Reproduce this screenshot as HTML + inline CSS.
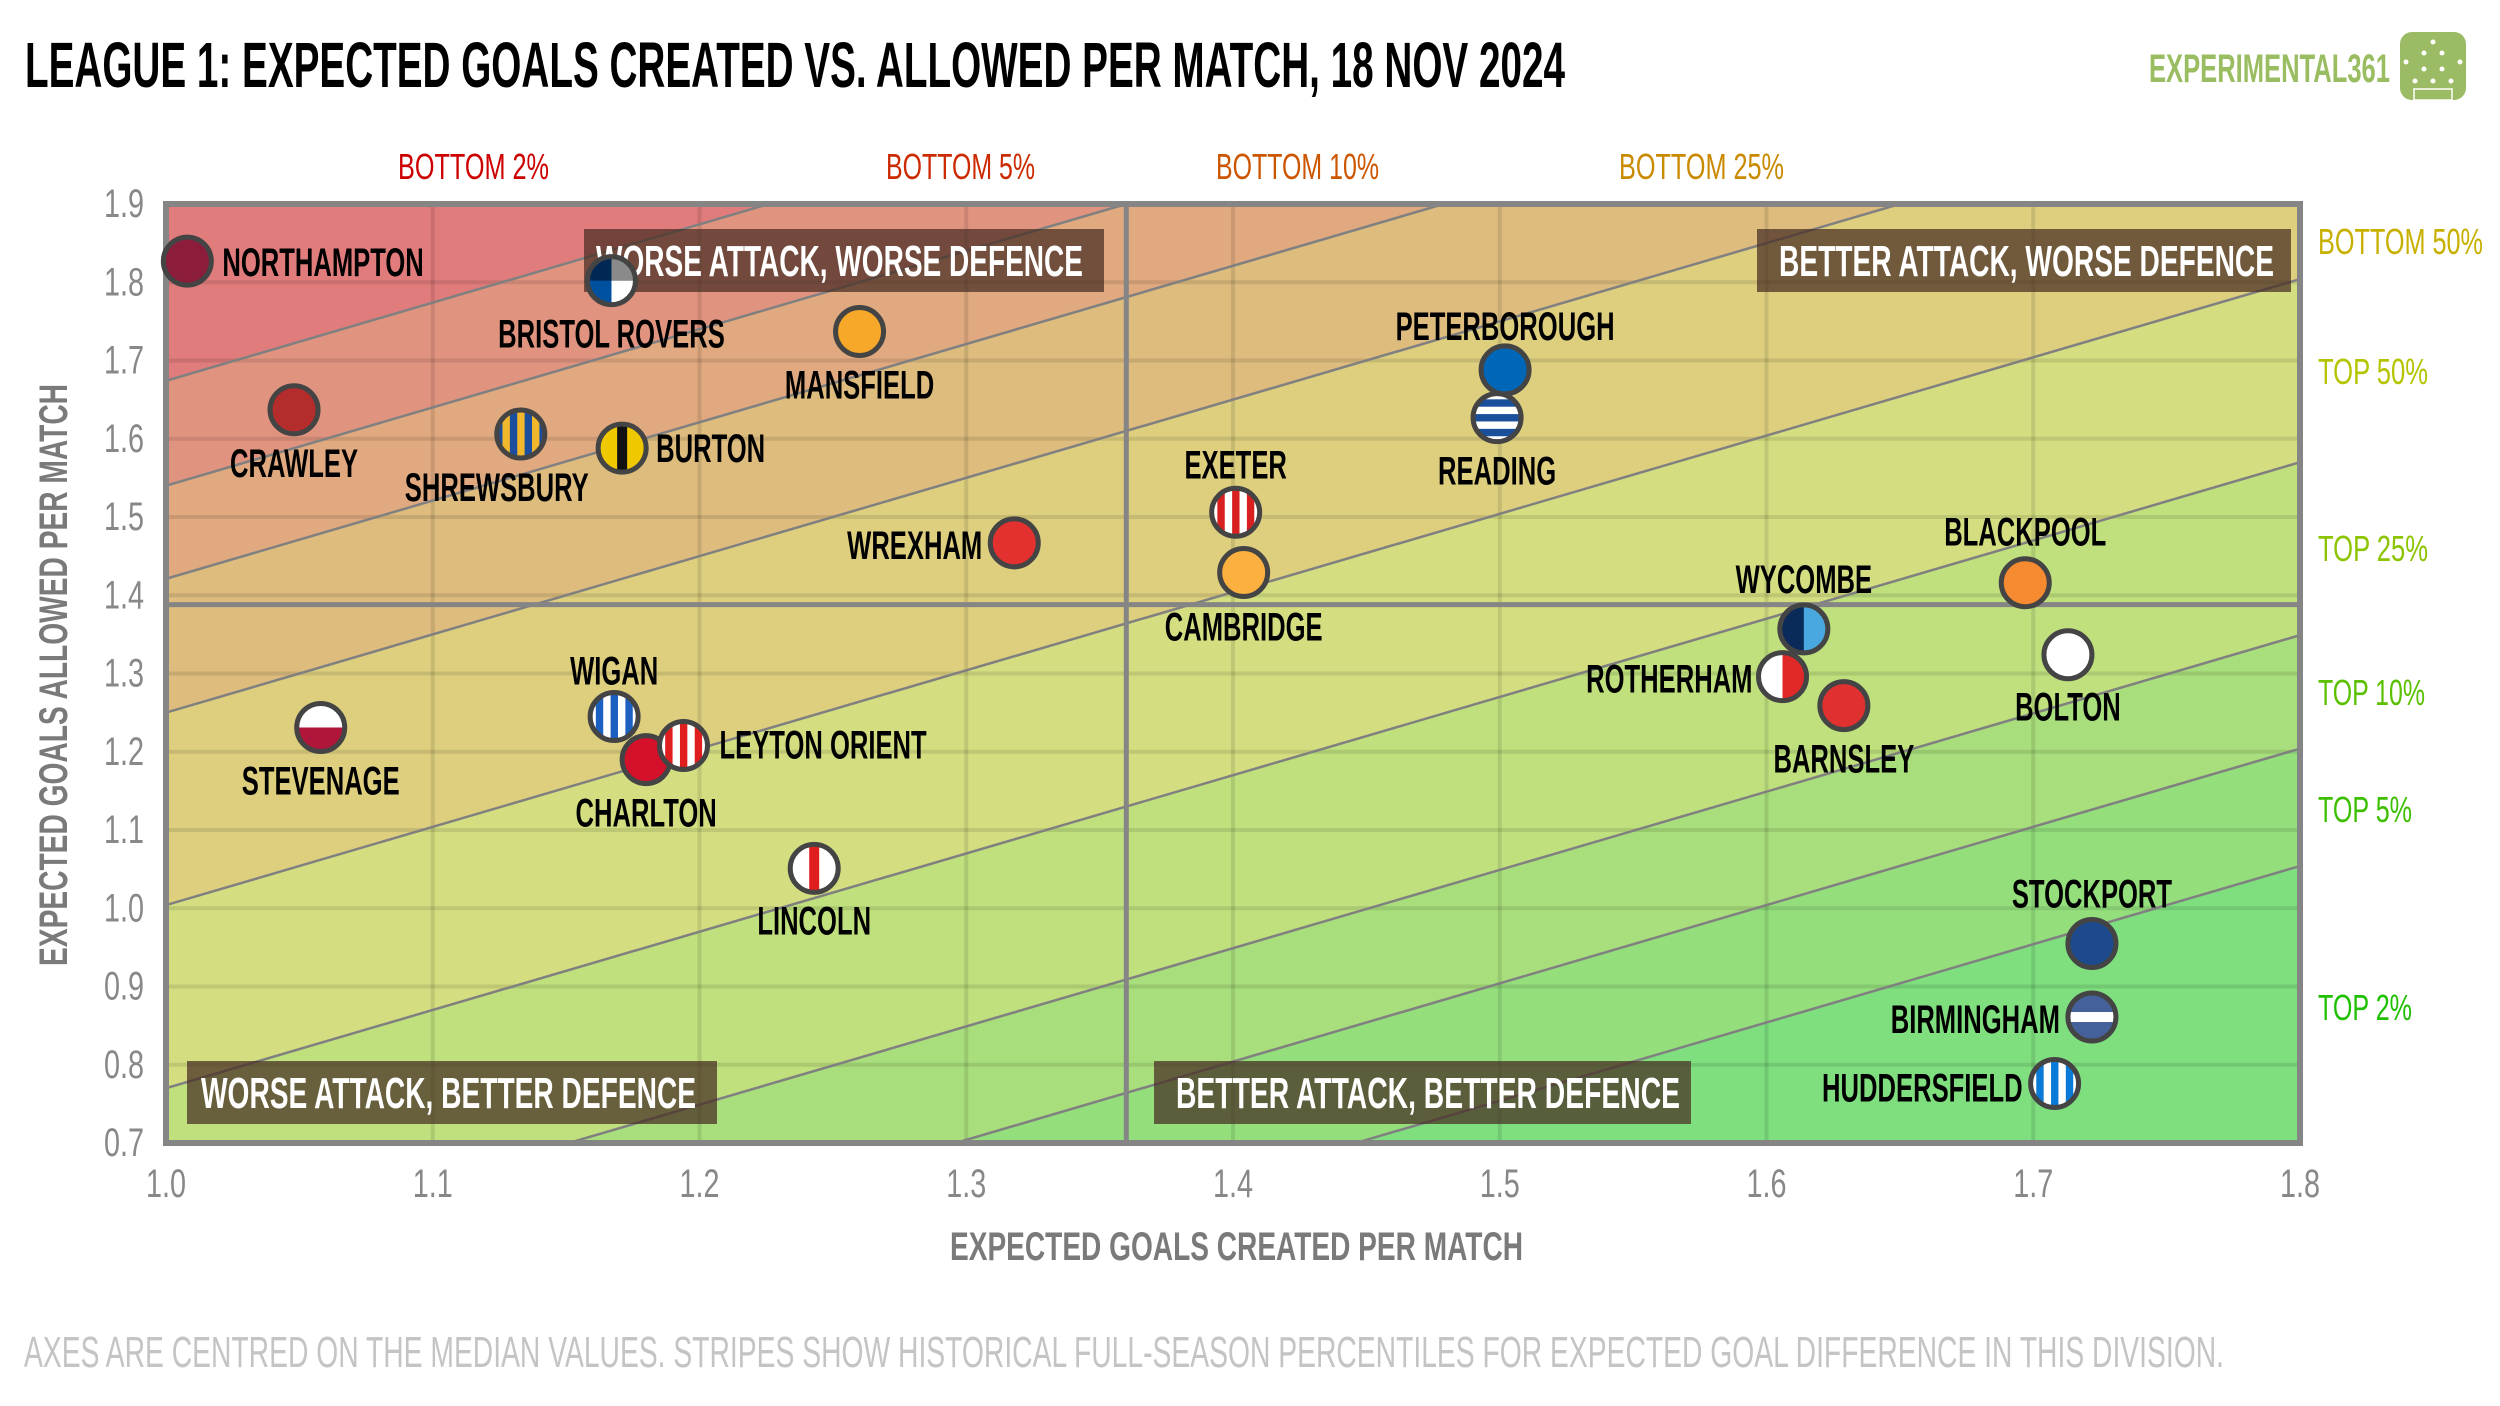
<!DOCTYPE html>
<html><head><meta charset="utf-8">
<style>
html,body{margin:0;padding:0;background:#fff;width:2500px;height:1406px;overflow:hidden;}
svg{display:block;}
text{font-family:"Liberation Sans Narrow","Liberation Sans",sans-serif;}
</style></head>
<body>
<svg id="chart" width="2500" height="1406" viewBox="0 0 2500 1406" xmlns="http://www.w3.org/2000/svg">
<defs><clipPath id="plotclip"><rect x="166" y="204" width="2134" height="939"/></clipPath></defs>
<text x="25" y="87" font-size="64" font-weight="bold" fill="#000" textLength="1540" lengthAdjust="spacingAndGlyphs">LEAGUE 1: EXPECTED GOALS CREATED VS. ALLOWED PER MATCH, 18 NOV 2024</text>
<text x="2149" y="82" font-size="40" font-weight="bold" fill="#9bbd62" textLength="241" lengthAdjust="spacingAndGlyphs">EXPERIMENTAL361</text>
<g>
<rect x="2400" y="32" width="66" height="68" rx="12" fill="#9bbb64"/>
<circle cx="2433" cy="42" r="2.5" fill="#fff"/><circle cx="2424" cy="53" r="2.5" fill="#fff"/><circle cx="2442" cy="53" r="2.5" fill="#fff"/>
<circle cx="2406" cy="62" r="2.5" fill="#fff"/><circle cx="2460" cy="62" r="2.5" fill="#fff"/>
<circle cx="2424" cy="69" r="2.5" fill="#fff"/><circle cx="2442" cy="69" r="2.5" fill="#fff"/>
<circle cx="2415" cy="81" r="2.5" fill="#fff"/><circle cx="2433" cy="81" r="2.5" fill="#fff"/><circle cx="2451" cy="81" r="2.5" fill="#fff"/>
<rect x="2414" y="89" width="38" height="11" fill="none" stroke="#fff" stroke-width="1.5"/>
</g>
<g id="plot"></g>
<text x="950" y="1260" font-size="40" font-weight="bold" fill="#7a7a7a" textLength="573" lengthAdjust="spacingAndGlyphs">EXPECTED GOALS CREATED PER MATCH</text>
<text transform="translate(67,966) rotate(-90)" x="0" y="0" font-size="40" font-weight="bold" fill="#7a7a7a" textLength="582" lengthAdjust="spacingAndGlyphs">EXPECTED GOALS ALLOWED PER MATCH</text>
<text x="24" y="1367" font-size="44" fill="#c4c4c4" textLength="2200" lengthAdjust="spacingAndGlyphs">AXES ARE CENTRED ON THE MEDIAN VALUES. STRIPES SHOW HISTORICAL FULL-SEASON PERCENTILES FOR EXPECTED GOAL DIFFERENCE IN THIS DIVISION.</text>
</svg>
<script>
const teams=["NORTHAMPTON","BRISTOL ROVERS","MANSFIELD","CRAWLEY","SHREWSBURY","BURTON","WREXHAM","EXETER","CAMBRIDGE","PETERBOROUGH","READING","BLACKPOOL","WYCOMBE","ROTHERHAM","BARNSLEY","BOLTON","STEVENAGE","WIGAN","CHARLTON","LEYTON ORIENT","LINCOLN","STOCKPORT","BIRMINGHAM","HUDDERSFIELD"];
const xgFor=[1.008,1.167,1.260,1.048,1.133,1.171,1.318,1.401,1.404,1.502,1.499,1.697,1.614,1.606,1.629,1.713,1.058,1.168,1.180,1.194,1.243,1.722,1.722,1.708];
const xgAgainst=[1.827,1.802,1.737,1.637,1.606,1.588,1.467,1.506,1.429,1.688,1.627,1.416,1.357,1.296,1.259,1.324,1.231,1.245,1.190,1.208,1.051,0.955,0.861,0.776];
const xTicks=[1.0,1.1,1.2,1.3,1.4,1.5,1.6,1.7,1.8];
const yTicks=[0.7,0.8,0.9,1.0,1.1,1.2,1.3,1.4,1.5,1.6,1.7,1.8,1.9];
const medianX=1.36, medianY=1.388;
const pctLines=[-0.674,-0.540,-0.421,-0.25,-0.004,0.230,0.451,0.596,0.746];
const bandColors=["#e07c7c","#e0947f","#e0a97f","#ddbc7e","#ddcf7e","#d4de80","#bfe07d","#a9de7c","#94df7c","#7fdf7f"];
const topLabels=["BOTTOM 2%","BOTTOM 5%","BOTTOM 10%","BOTTOM 25%"];
const rightLabels=["BOTTOM 50%","TOP 50%","TOP 25%","TOP 10%","TOP 5%","TOP 2%"];

const NS="http://www.w3.org/2000/svg";
const X0=166,X1=2300,Y0=204,Y1=1143;
const xs=v=>X0+(v-1.0)/0.8*(X1-X0);
const ys=v=>Y1-(v-0.7)/1.2*(Y1-Y0);
const plot=document.getElementById('plot');
function mk(tag,attrs,parent){const e=document.createElementNS(NS,tag);for(const k in attrs)e.setAttribute(k,attrs[k]);(parent||plot).appendChild(e);return e;}

const bands=mk('g',{'clip-path':'url(#plotclip)'});


mk('rect',{x:X0,y:Y0,width:X1-X0,height:Y1-Y0,fill:bandColors[0]},bands);
pctLines.forEach((g,i)=>{
  const p=mk('polygon',{points:`${xs(0)},${ys(0-g)} ${xs(3)},${ys(3-g)} ${xs(3)},${ys(-2)} ${xs(0)},${ys(-2)}`,fill:bandColors[i+1]},bands);
  
  
});
xTicks.slice(1,-1).forEach(t=>{const l=mk('line',{x1:xs(t),x2:xs(t),y1:Y0,y2:Y1,stroke:'rgba(0,0,0,0.1)','stroke-width':4},bands);
  });
yTicks.slice(1,-1).forEach(t=>{const l=mk('line',{x1:X0,x2:X1,y1:ys(t),y2:ys(t),stroke:'rgba(0,0,0,0.1)','stroke-width':4},bands);
  });
pctLines.forEach(g=>{const l=mk('line',{x1:xs(0),y1:ys(0-g),x2:xs(3),y2:ys(3-g),stroke:'#808080','stroke-width':2.5},bands);
  });
const mv=mk('line',{x1:xs(medianX),x2:xs(medianX),y1:Y0,y2:Y1,stroke:'#858585','stroke-width':5},bands);

const mh=mk('line',{x1:X0,x2:X1,y1:ys(medianY),y2:ys(medianY),stroke:'#858585','stroke-width':5},bands);


const quads=[["WORSE ATTACK, WORSE DEFENCE",584,229,520,596,487],["BETTER ATTACK, WORSE DEFENCE",1757,229,534,1779,495],["WORSE ATTACK, BETTER DEFENCE",187,1061,530,201,495],["BETTER ATTACK, BETTER DEFENCE",1154,1061,537,1176,504]];
quads.forEach(q=>{
  const g=mk('g',{});
  
  
  mk('rect',{x:q[1],y:q[2],width:q[3],height:63,fill:'rgba(70,45,35,0.72)'},g);
  const t=mk('text',{x:q[4],y:q[2]+47,'font-size':44,'font-weight':'bold',fill:'#fff',textLength:q[5],lengthAdjust:'spacingAndGlyphs'},g);
  t.textContent=q[0];
});

const border=mk('rect',{x:X0,y:Y0,width:X1-X0,height:Y1-Y0,fill:'none',stroke:'#858585','stroke-width':6});


xTicks.forEach(t=>{const e=mk('text',{transform:`translate(${xs(t)},1197) scale(0.72,1)`,x:0,y:0,'font-size':40,fill:'#888','text-anchor':'middle'});
  e.textContent=t.toFixed(1);});
yTicks.forEach(t=>{const e=mk('text',{transform:`translate(144,${ys(t)+13}) scale(0.72,1)`,x:0,y:0,'font-size':40,fill:'#888','text-anchor':'end'});
  e.textContent=t.toFixed(1);});

const topPos=[[398,151,'#cc0000'],[886,149,'#cc2a00'],[1216,163,'#cc5500'],[1619,165,'#c98a00']];
topLabels.forEach((s,i)=>{const e=mk('text',{x:topPos[i][0],y:179,'font-size':36,fill:topPos[i][2],textLength:topPos[i][1],lengthAdjust:'spacingAndGlyphs'});
  e.textContent=s;});
const rightPos=[[254,165,'#c8b000'],[384,110,'#b4c400'],[561,110,'#8cc400'],[705,107,'#5ac000'],[822,94,'#3cbf00'],[1020,94,'#1ec000']];
rightLabels.forEach((s,i)=>{const e=mk('text',{x:2318,y:rightPos[i][0],'font-size':36,fill:rightPos[i][2],textLength:rightPos[i][1],lengthAdjust:'spacingAndGlyphs'});
  e.textContent=s;});

const styles=[["solid","#8b1c3a"],["quarters","#002855","#8a8a8a","#0050a0","#fff"],["solid","#f7a829"],["solid","#b52c2c"],["vstripes","#1c4ea0","#f2b82c"],["vcenter","#f0c800","#111"],["solid","#e53030"],["vstripes","#fff","#d82020"],["solid","#fbb040"],["solid","#0067b8"],["hhoops","#fff","#1a4f9c"],["solid","#f58a30"],["vhalves","#0a2a5a","#4aa8e0"],["vhalves","#fff","#e02828"],["solid","#e03030"],["solid","#fff"],["hhalves","#fff","#b0163a"],["vstripes","#fff","#1b5fc0"],["solid","#d4102a"],["vstripes","#fff","#e01e1e"],["vcenter","#fff","#e01e1e"],["solid","#1c4a8c"],["hband","#44619c","#fff"],["vstripes","#fff","#0a7ad8"]];
const labelOff=[[35,15,'start'],[0,67,'middle'],[0,67,'middle'],[0,67,'middle'],[-24,67,'middle'],[34,14,'start'],[-32,16,'end'],[0,-34,'middle'],[0,68,'middle'],[0,-30,'middle'],[0,67,'middle'],[0,-37,'middle'],[0,-36,'middle'],[-30,16,'end'],[0,67,'middle'],[0,66,'middle'],[0,67,'middle'],[0,-32,'middle'],[0,67,'middle'],[36,13,'start'],[0,66,'middle'],[0,-36,'middle'],[-32,16,'end'],[-32,18,'end']];
const R=24;
const defs=document.querySelector('defs');
teams.forEach((name,i)=>{
  const cx=xs(xgFor[i]),cy=ys(xgAgainst[i]);
  const g=mk('g',{});
  
  
  const cid='mc'+i;
  const cp=document.createElementNS(NS,'clipPath');cp.setAttribute('id',cid);
  const cc=document.createElementNS(NS,'circle');cc.setAttribute('cx',cx);cc.setAttribute('cy',cy);cc.setAttribute('r',R);cp.appendChild(cc);defs.appendChild(cp);
  const s=styles[i];
  const inner=mk('g',{'clip-path':`url(#${cid})`},g);
  mk('rect',{x:cx-R,y:cy-R,width:2*R,height:2*R,fill:s[1]},inner);
  if(s[0]==='vstripes'){for(let k=0;k<3;k++)mk('rect',{x:cx-R+(2*k+0.5)*(2*R/6.5)+2,y:cy-R,width:2*R/6.5,height:2*R,fill:s[2]},inner);}
  if(s[0]==='vcenter'){mk('rect',{x:cx-5,y:cy-R,width:10,height:2*R,fill:s[2]},inner);}
  if(s[0]==='hhoops'){for(let k=0;k<3;k++)mk('rect',{x:cx-R,y:cy-R+(2*k+0.5)*(2*R/6.5)+2,width:2*R,height:2*R/6.5,fill:s[2]},inner);}
  if(s[0]==='vhalves'){mk('rect',{x:cx,y:cy-R,width:R,height:2*R,fill:s[2]},inner);}
  if(s[0]==='hhalves'){mk('rect',{x:cx-R,y:cy,width:2*R,height:R,fill:s[2]},inner);}
  if(s[0]==='hband'){mk('rect',{x:cx-R,y:cy-5,width:2*R,height:10,fill:s[2]},inner);}
  if(s[0]==='quarters'){mk('rect',{x:cx,y:cy-R,width:R,height:R,fill:s[2]},inner);mk('rect',{x:cx-R,y:cy,width:R,height:R,fill:s[3]},inner);mk('rect',{x:cx,y:cy,width:R,height:R,fill:s[4]},inner);}
  mk('circle',{cx:cx,cy:cy,r:R,fill:'none',stroke:'#444','stroke-width':5},g);
  const lo=labelOff[i];
  const t=mk('text',{transform:`translate(${cx+lo[0]},${cy+lo[1]}) scale(0.64,1)`,x:0,y:0,'font-size':40,'font-weight':'bold',fill:'#000','text-anchor':lo[2]});
  
  
  t.textContent=name;
});
</script>
</body></html>
